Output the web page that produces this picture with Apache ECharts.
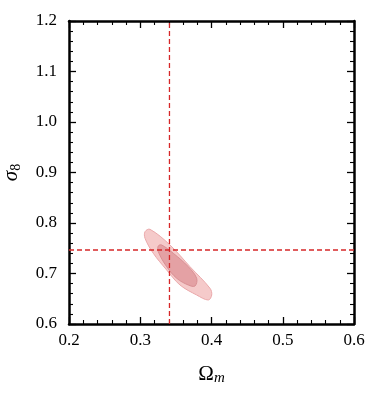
<!DOCTYPE html>
<html><head><meta charset="utf-8">
<script src="https://cdn.jsdelivr.net/npm/echarts@6/dist/echarts.min.js"></script>
<style>html,body{margin:0;padding:0;background:#fff}#c{width:367px;height:395px}</style>
</head><body><div id="c"></div>
<script>
const xTicks = [0.2, 0.3, 0.4, 0.5, 0.6];
const yTicks = [0.6, 0.7, 0.8, 0.9, 1.0, 1.1, 1.2];
const fiducialOm = 0.341;
const fiducialS8 = 0.7465;
const contour95 = [[0.3067,0.7828],[0.3137,0.7875],[0.3418,0.7564],[0.3698,0.7135],[0.3979,0.6707],[0.4003,0.6574],[0.3955,0.6475],[0.3792,0.6574],[0.3558,0.6772],[0.3371,0.7069],[0.3183,0.7400],[0.3067,0.7697]];
const contour68 = [[0.3253,0.7545],[0.3301,0.7564],[0.3464,0.7400],[0.3674,0.7135],[0.3792,0.6905],[0.3768,0.6752],[0.3674,0.6772],[0.3512,0.6905],[0.3371,0.7135],[0.3253,0.7432]];

const FONT = 'Liberation Serif';
function polySeries(pts, fill, stroke, z){
  return {
    type:'custom', z:z, silent:true,
    data:[0],
    renderItem:function(params, api){
      const p = pts.map(d=>api.coord(d));
      return {type:'polygon', shape:{points:p, smooth:0.35}, style:{fill:fill, stroke:stroke, lineWidth:1}};
    }
  };
}
const tickCommon = {show:true, inside:true, length:7, lineStyle:{color:'#000', width:1.3}};
const minorCommon = {show:true, splitNumber:5, length:4, lineStyle:{color:'#000', width:1.1}};
const chart = echarts.init(document.getElementById('c'));
chart.setOption({
  animation:false,
  grid:{left:69, right:13, top:21, bottom:71, outerBoundsMode:'none', containLabel:false},
  xAxis:[
    {type:'value', min:0.2, max:0.6, interval:0.1, position:'bottom',
     axisLine:{lineStyle:{color:'#000', width:2.5}}, axisTick:tickCommon, minorTick:minorCommon,
     splitLine:{show:false},
     axisLabel:{fontFamily:FONT, fontSize:17, color:'#000', margin:8, formatter:v=>v.toFixed(1)},
     name:'{a|Ω}{s|m}', nameLocation:'middle', nameGap:38,
     nameTextStyle:{rich:{a:{fontFamily:FONT, fontSize:21, color:'#000'}, s:{fontFamily:FONT, fontStyle:'italic', fontSize:15, color:'#000', verticalAlign:'bottom', padding:[9,0,0,0]}}}
    },
    {type:'value', min:0.2, max:0.6, interval:0.1, position:'top',
     axisLine:{lineStyle:{color:'#000', width:2.5}}, axisTick:tickCommon, minorTick:minorCommon,
     splitLine:{show:false}, axisLabel:{show:false}}
  ],
  yAxis:[
    {type:'value', min:0.6, max:1.2, interval:0.1, position:'left',
     axisLine:{lineStyle:{color:'#000', width:2.5}}, axisTick:tickCommon, minorTick:minorCommon,
     splitLine:{show:false},
     axisLabel:{fontFamily:FONT, fontSize:17, color:'#000', margin:12, formatter:v=>v.toFixed(1)},
     name:'{a|σ}{s|8}', nameLocation:'middle', nameGap:46, nameRotate:90,
     nameTextStyle:{rich:{a:{fontFamily:FONT, fontStyle:'italic', fontSize:21, color:'#000'}, s:{fontFamily:FONT, fontSize:14, color:'#000', verticalAlign:'bottom', padding:[9,0,0,0]}}}
    },
    {type:'value', min:0.6, max:1.2, interval:0.1, position:'right',
     axisLine:{lineStyle:{color:'#000', width:2.5}}, axisTick:tickCommon, minorTick:minorCommon,
     splitLine:{show:false}, axisLabel:{show:false}}
  ],
  series:[
    polySeries(contour95, '#f5caca', '#eaa8aa', 2),
    polySeries(contour68, '#e4a1a4', '#d98f93', 3),
    {type:'line', silent:true, z:4, symbol:'none', data:[[fiducialOm,0.6],[fiducialOm,1.2]],
     lineStyle:{color:'#d62728', width:1.3, type:[5,3]}},
    {type:'line', silent:true, z:4, symbol:'none', data:[[0.2,fiducialS8],[0.6,fiducialS8]],
     lineStyle:{color:'#d62728', width:1.3, type:[5,3]}}
  ]
});
</script></body></html>
